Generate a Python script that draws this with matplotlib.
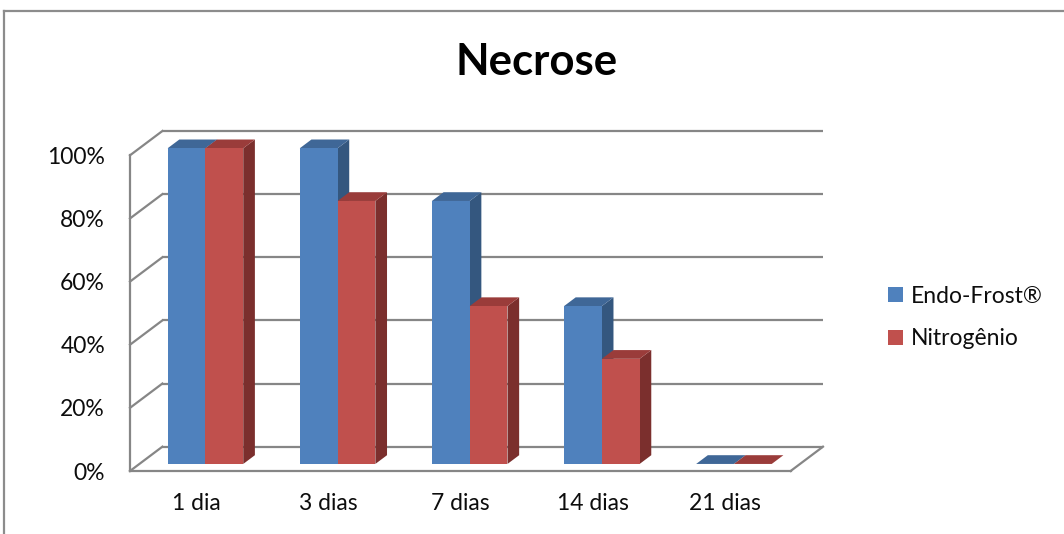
import matplotlib
matplotlib.use("Agg")
import matplotlib.pyplot as plt
from matplotlib.patches import Polygon, Patch
from matplotlib.lines import Line2D

# Chart data
categories = ["1 dia", "3 dias", "7 dias", "14 dias", "21 dias"]
series_names = ["Endo-Frost®", "Nitrogênio"]
endo_frost = [100.0, 100.0, 83.3, 50.0, 0.0]
nitrogenio = [100.0, 83.3, 50.0, 33.3, 0.0]
y_ticks = [0, 20, 40, 60, 80, 100]
y_tick_labels = ["0%", "20%", "40%", "60%", "80%", "100%"]

# Styling
FRONT = ["#4F81BD", "#C0504D"]
TOP = ["#3F6797", "#9A3C3A"]
SIDE = ["#34577F", "#7B2F2D"]
GRID = "#868686"
FONT = ["Lato", "DejaVu Sans"]
TXT = "#0d0d0d"
FS = 16.5

# pseudo-3D projection: full depth shifts x by DX (category units), y by DY (percent)
DX, DY = 0.245, 7.7
D0, D1 = 0.29, 0.65          # depth span of the bars
BAR_W = 0.286

plt.rcParams["font.family"] = FONT

fig = plt.figure(figsize=(10.64, 5.34), dpi=100)
ax = fig.add_axes([130 / 1064, 63 / 534, (823 - 130) / 1064, (471 - 131) / 534])
n = len(categories)
ax.set_xlim(-0.5, n - 0.5 + DX)
ax.set_ylim(0, 100 + DY)
for s in ax.spines.values():
    s.set_visible(False)

# walls and gridlines
lw = 1.6
for g in y_ticks:
    ax.plot([-0.5 + DX, n - 0.5 + DX], [g + DY, g + DY], color=GRID, lw=lw,
            clip_on=False, zorder=1, solid_capstyle="butt")
    ax.plot([-0.5, -0.5 + DX], [g, g + DY], color=GRID, lw=lw,
            clip_on=False, zorder=1)
ax.plot([-0.5, -0.5], [0, 100], color=GRID, lw=lw, clip_on=False, zorder=1)
ax.plot([n - 0.5, n - 0.5 + DX], [0, DY], color=GRID, lw=lw, clip_on=False, zorder=6)
ax.plot([-0.5, n - 0.5], [0, 0], color=GRID, lw=lw, clip_on=False, zorder=6)


def draw_bar(x0, v, k, z):
    xf = x0 + D0 * DX
    yf = D0 * DY
    xb = x0 + D1 * DX
    yb = D1 * DY
    # right side face
    ax.add_patch(Polygon([(xf + BAR_W, yf), (xb + BAR_W, yb),
                          (xb + BAR_W, yb + v), (xf + BAR_W, yf + v)],
                         closed=True, facecolor=SIDE[k], edgecolor="none", zorder=z))
    # top face
    ax.add_patch(Polygon([(xf, yf + v), (xf + BAR_W, yf + v),
                          (xb + BAR_W, yb + v), (xb, yb + v)],
                         closed=True, facecolor=TOP[k], edgecolor="none", zorder=z))
    # front face
    ax.bar(xf, v, width=BAR_W, bottom=yf, align="edge", color=FRONT[k],
           edgecolor="none", zorder=z)


z = 2
for i in range(n):
    for k, vals in enumerate([endo_frost, nitrogenio]):
        x0 = i - BAR_W + k * BAR_W
        draw_bar(x0, vals[i], k, z)
        z += 0.01

ax.set_yticks(y_ticks)
ax.set_yticklabels(y_tick_labels)
ax.set_xticks(range(n))
ax.set_xticklabels(categories)
ax.tick_params(axis="y", length=0, pad=18, labelsize=FS, labelcolor=TXT)
ax.tick_params(axis="x", length=0, pad=16, labelsize=FS, labelcolor=TXT)

fig.text(537 / 1064, 1 - 62 / 534, "Necrose", ha="center", va="center",
         fontsize=31.5, fontweight="bold", color="black")

handles = [Patch(facecolor=FRONT[0], edgecolor="none"),
           Patch(facecolor=FRONT[1], edgecolor="none")]
leg = fig.legend(handles, series_names, loc="center left",
                 bbox_to_anchor=(888 / 1064, 1 - 317.5 / 534), frameon=False,
                 fontsize=FS, handlelength=0.65, handleheight=0.65,
                 handletextpad=0.33, labelspacing=0.95, borderpad=0, borderaxespad=0)
for t in leg.get_texts():
    t.set_color(TXT)

# outer frame (top and left edges)
fig.add_artist(Line2D([4 / 1064, 1], [1 - 11 / 534, 1 - 11 / 534], color="#8c8c8c",
                      lw=1.6, transform=fig.transFigure))
fig.add_artist(Line2D([4 / 1064, 4 / 1064], [0, 1 - 11 / 534], color="#8c8c8c",
                      lw=1.6, transform=fig.transFigure))

fig.savefig("out.png", dpi=100, facecolor="white")
